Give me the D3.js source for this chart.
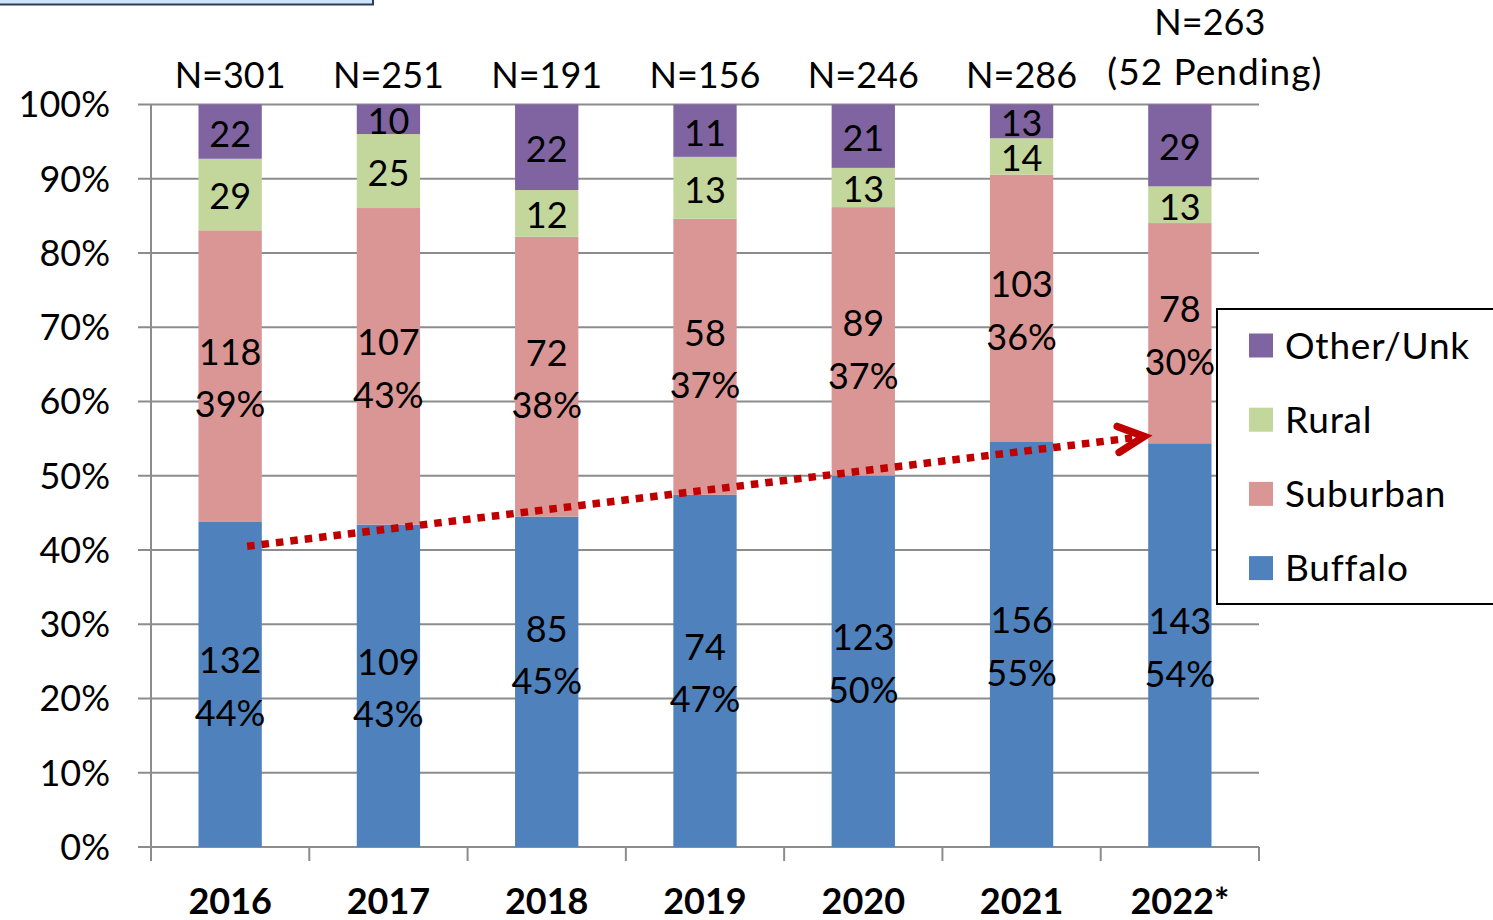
<!DOCTYPE html>
<html>
<head>
<meta charset="utf-8">
<script src="https://cdn.jsdelivr.net/npm/d3@7"></script>
<style>
  html, body { margin: 0; padding: 0; background: #fff; }
  svg { display: block; font-family: Lato, "Open Sans", sans-serif; }
</style>
</head>
<body>
<svg id="chart" width="1493" height="920"></svg>
<script>
// ---- data ----
const years = ["2016", "2017", "2018", "2019", "2020", "2021", "2022*"];
const seriesNames = ["Buffalo", "Suburban", "Rural", "Other/Unk"];
const buffalo  = [132, 109, 85, 74, 123, 156, 143];
const suburban = [118, 107, 72, 58, 89, 103, 78];
const rural    = [29, 25, 12, 13, 13, 14, 13];
const other    = [22, 10, 22, 11, 21, 13, 29];
const buffaloPct  = ["44%", "43%", "45%", "47%", "50%", "55%", "54%"];
const suburbanPct = ["39%", "43%", "38%", "37%", "37%", "36%", "30%"];
const totals = ["N=301", "N=251", "N=191", "N=156", "N=246", "N=286", "N=263"];
const totalsExtra = ["", "", "", "", "", "", "(52 Pending)"];
const yTicks = [0, 0.1, 0.2, 0.3, 0.4, 0.5, 0.6, 0.7, 0.8, 0.9, 1.0];
const trendStart = 0.405, trendEnd = 0.553;

const colors = { "Buffalo": "#4F81BD", "Suburban": "#D99694", "Rural": "#C3D69B", "Other/Unk": "#8064A2" };

// ---- layout ----
const svg = d3.select("#chart");
const plot = { left: 151, right: 1259, top: 104.5, bottom: 847 };

const x = d3.scaleBand().domain(years).range([plot.left, plot.right]).paddingInner(0.6).paddingOuter(0.3);
const xOuter = d3.scaleBand().domain(years).range([plot.left, plot.right]).padding(0);
const y = d3.scaleLinear().domain([0, 1]).range([plot.bottom, plot.top]);

const rows = years.map((yr, i) => {
  const tot = buffalo[i] + suburban[i] + rural[i] + other[i];
  return { year: yr, tot, "Buffalo": buffalo[i] / tot, "Suburban": suburban[i] / tot, "Rural": rural[i] / tot, "Other/Unk": other[i] / tot, i };
});
const stacked = d3.stack().keys(seriesNames)(rows);
const countsBy = { "Buffalo": buffalo, "Suburban": suburban, "Rural": rural, "Other/Unk": other };
const pctBy = { "Buffalo": buffaloPct, "Suburban": suburbanPct };
// manually nudged labels (as in the original)
const labelNudge = { "Buffalo|2018": -29, "Suburban|2020": 6 };

// top-left decorative box
svg.append("rect").attr("x", -2).attr("y", -4).attr("width", 375).attr("height", 8.5)
  .attr("fill", "#cbe6fb").attr("stroke", "#2e3f55").attr("stroke-width", 2);

// gridlines
svg.append("g").selectAll("line").data(yTicks).join("line")
  .attr("x1", 138).attr("x2", plot.right)
  .attr("y1", d => y(d)).attr("y2", d => y(d))
  .attr("stroke", "#8c8c8c").attr("stroke-width", 2);

// y axis line
svg.append("line").attr("x1", plot.left).attr("x2", plot.left)
  .attr("y1", y(1)).attr("y2", plot.bottom)
  .attr("stroke", "#8c8c8c").attr("stroke-width", 2);

// x axis ticks
const xBounds = years.map(d => xOuter(d)).concat([plot.right]);
svg.append("g").selectAll("line").data(xBounds).join("line")
  .attr("x1", d => d).attr("x2", d => d)
  .attr("y1", plot.bottom).attr("y2", 861)
  .attr("stroke", "#8c8c8c").attr("stroke-width", 2);

// y tick labels
svg.append("g").selectAll("text").data(yTicks).join("text")
  .attr("x", 110).attr("y", d => y(d)).attr("dy", "0.36em")
  .attr("text-anchor", "end").attr("font-size", 36).attr("fill", "#000")
  .text(d3.format(".0%"));

// bars
const layers = svg.append("g").selectAll("g").data(stacked).join("g")
  .attr("fill", d => colors[d.key]);
layers.selectAll("rect").data(d => d).join("rect")
  .attr("x", d => x(d.data.year)).attr("width", x.bandwidth())
  .attr("y", d => y(d[1])).attr("height", d => y(d[0]) - y(d[1]));

// segment labels
const labelG = svg.append("g").attr("font-size", 36).attr("fill", "#000").attr("text-anchor", "middle");
stacked.forEach(layer => {
  layer.forEach((d, i) => {
    const cx = x(d.data.year) + x.bandwidth() / 2;
    const nudge = labelNudge[layer.key + "|" + d.data.year] || 0;
    const cy = (y(d[0]) + y(d[1])) / 2 + 2 + nudge;
    const cnt = countsBy[layer.key][i];
    const pct = pctBy[layer.key] ? pctBy[layer.key][i] : null;
    if (pct) {
      labelG.append("text").attr("x", cx).attr("y", cy - 26).attr("dy", "0.36em").text(cnt);
      labelG.append("text").attr("x", cx).attr("y", cy + 26.5).attr("dy", "0.36em").text(pct);
    } else {
      labelG.append("text").attr("x", cx).attr("y", cy).attr("dy", "0.36em").text(cnt);
    }
  });
});

// N labels
const nG = svg.append("g").attr("font-size", 36).attr("fill", "#000").attr("text-anchor", "middle");
years.forEach((yr, i) => {
  const cx = x(yr) + x.bandwidth() / 2 + (totalsExtra[i] ? 30 : 0);
  if (totalsExtra[i]) {
    nG.append("text").attr("x", cx).attr("y", 35).text(totals[i]);
    nG.append("text").attr("x", cx + 5).attr("y", 85).attr("font-size", 37).attr("letter-spacing", 1).text(totalsExtra[i]);
  } else {
    nG.append("text").attr("x", cx).attr("y", 88).text(totals[i]);
  }
});

// year labels
svg.append("g").selectAll("text").data(years).join("text")
  .attr("x", d => x(d) + x.bandwidth() / 2).attr("y", 914)
  .attr("text-anchor", "middle").attr("font-size", 36).attr("font-weight", "bold").attr("fill", "#000")
  .text(d => d);

// trend arrow
const x0 = x(years[0]) + x.bandwidth() / 2 + 17;
const x1 = x(years[years.length - 1]) - 4;
const ya = y(trendStart), yb = y(trendEnd);
svg.append("line").attr("x1", x0).attr("y1", ya).attr("x2", x1 - 12).attr("y2", yb + 1.5)
  .attr("stroke", "#C00000").attr("stroke-width", 7.5).attr("stroke-dasharray", "7.5,7");
svg.append("path")
  .attr("d", `M${x1 - 27},${yb - 10} L${x1},${yb} L${x1 - 25},${yb + 16}`)
  .attr("fill", "none").attr("stroke", "#C00000").attr("stroke-width", 7.5)
  .attr("stroke-linecap", "round").attr("stroke-linejoin", "miter");

// legend
const lg = svg.append("g");
lg.append("rect").attr("x", 1217).attr("y", 309).attr("width", 290).attr("height", 295)
  .attr("fill", "#fff").attr("stroke", "#000").attr("stroke-width", 2);
const legendOrder = ["Other/Unk", "Rural", "Suburban", "Buffalo"];
legendOrder.forEach((k, i) => {
  const cy = 345.5 + i * 74.2;
  lg.append("rect").attr("x", 1249).attr("y", cy - 12).attr("width", 24).attr("height", 24).attr("fill", colors[k]);
  lg.append("text").attr("x", 1285).attr("y", cy).attr("dy", "0.36em")
    .attr("font-size", 37).attr("letter-spacing", 0.8).attr("fill", "#000").text(k);
});
</script>
</body>
</html>
